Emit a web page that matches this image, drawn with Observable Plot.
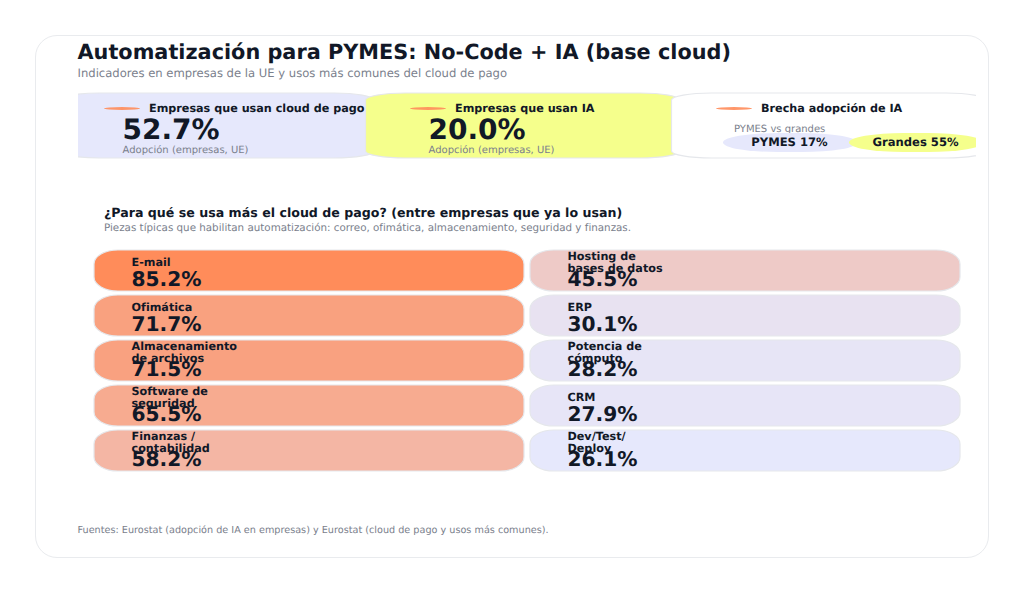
<!DOCTYPE html>
<html lang="es">
<head>
<meta charset="utf-8">
<script src="https://cdn.jsdelivr.net/npm/d3@7"></script>
<script src="https://cdn.jsdelivr.net/npm/@observablehq/plot@0.6"></script>
<style>
  html, body { margin: 0; padding: 0; background: #fff; width: 1024px; height: 592px; overflow: hidden; font-family: "DejaVu Sans", sans-serif; text-rendering: geometricPrecision; }
  #page { position: relative; width: 1024px; height: 592px; }
  #panel { position: absolute; left: 35px; top: 35px; width: 952px; height: 521px; border: 1.5px solid #e9ebee; border-radius: 22px; background: #fff; }
  .t { position: absolute; white-space: nowrap; line-height: 1; }
  #title { left: 77.5px; top: 42px; font-size: 20.82px; font-weight: 700; color: #111827; }
  #subtitle { left: 77.5px; top: 67.5px; font-size: 11.6px; color: #7a808c; }
  #h2 { left: 104px; top: 206.5px; font-size: 12.62px; font-weight: 700; color: #111827; }
  #h2sub { left: 104px; top: 222.5px; font-size: 10.32px; color: #7a808c; }
  #source { left: 77.5px; top: 525.5px; font-size: 9.67px; color: #7a808c; }
  #kpi, #tiles { position: absolute; }
  #kpi { left: 78px; top: 90px; }
  #tiles { left: 0; top: 237px; }
  svg { display: block; overflow: hidden; background: transparent; text-rendering: geometricPrecision; }
</style>
</head>
<body>
<div id="page">
  <div id="panel"></div>
  <div class="t" id="title">Automatización para PYMES: No-Code + IA (base cloud)</div>
  <div class="t" id="subtitle">Indicadores en empresas de la UE y usos más comunes del cloud de pago</div>
  <div id="kpi"></div>
  <div class="t" id="h2">¿Para qué se usa más el cloud de pago? (entre empresas que ya lo usan)</div>
  <div class="t" id="h2sub">Piezas típicas que habilitan automatización: correo, ofimática, almacenamiento, seguridad y finanzas.</div>
  <div id="tiles"></div>
  <div class="t" id="source">Fuentes: Eurostat (adopción de IA en empresas) y Eurostat (cloud de pago y usos más comunes).</div>
</div>
<script>
const kpiNames = ["Empresas que usan cloud de pago", "Empresas que usan IA", "Brecha adopción de IA"];
const kpiValues = ["52.7%", "20.0%", ""];
const kpiNotes = ["Adopción (empresas, UE)", "Adopción (empresas, UE)", "PYMES vs grandes"];
const kpiFills = ["#e6e8fc", "#f5ff8c", "#ffffff"];
const gapLabels = ["PYMES 17%", "Grandes 55%"];
const gapFills = ["#e6e8fc", "#f5ff8c"];

const useLabels = ["E-mail", "Ofimática", "Almacenamiento\nde archivos", "Software de\nseguridad", "Finanzas /\ncontabilidad",
                   "Hosting de\nbases de datos", "ERP", "Potencia de\ncómputo", "CRM", "Dev/Test/\nDeploy"];
const useValues = [85.2, 71.7, 71.5, 65.5, 58.2, 45.5, 30.1, 28.2, 27.9, 26.1];
const useColumns = ["a", "a", "a", "a", "a", "b", "b", "b", "b", "b"];
const useRows = [1, 2, 3, 4, 5, 1, 2, 3, 4, 5];

const ink = "#111827", muted = "#7a808c", edge = "#e5e7eb", accent = "#ff8c5a";
const font = "DejaVu Sans";

const kpis = kpiNames.map((name, i) => ({name, value: kpiValues[i], note: kpiNotes[i], fill: kpiFills[i]}));
const uses = useLabels.map((label, i) => ({label, value: useValues[i], col: useColumns[i], row: useRows[i]}));
const gapCard = kpiNames[2];

const kpiPlot = Plot.plot({
  width: 898, height: 72,
  margin: 0,
  style: {fontFamily: font, background: "transparent"},
  x: {type: "band", domain: kpiNames, range: [-18, 900], padding: 0, axis: null},
  y: {type: "band", domain: ["kpi"], range: [3, 68], padding: 0, axis: null},
  marks: [
    Plot.cell(kpis, {x: "name", y: () => "kpi", fill: "fill", stroke: edge, strokeWidth: 1.2, insetLeft: -0.5, insetRight: -8, rx: 40, ry: 7}),
    Plot.cell(kpis, {x: "name", y: () => "kpi", fill: accent, fillOpacity: 0.9, insetLeft: 44, insetRight: 226, insetTop: 14, insetBottom: 48, rx: 18, ry: 2}),
    Plot.text(kpis, {x: "name", y: () => "kpi", text: "name", textAnchor: "start", dx: -64.5, dy: -17.5, fontSize: 11.2, fontWeight: 700, fill: ink}),
    Plot.text(kpis, {x: "name", y: () => "kpi", text: "value", textAnchor: "start", dx: -91, dy: 4.5, fontSize: 28, fontWeight: 700, fill: ink}),
    Plot.text(kpis.filter(d => d.value), {x: "name", y: () => "kpi", text: "note", textAnchor: "start", dx: -91, dy: 24, fontSize: 10, fill: muted}),
    Plot.text(kpis.filter(d => !d.value), {x: "name", y: () => "kpi", text: "note", textAnchor: "start", dx: -91.5, dy: 3, fontSize: 10, fill: muted}),
    Plot.cell([gapLabels[0]], {x: () => gapCard, y: () => "kpi", fill: gapFills[0], insetLeft: 51, insetRight: 121, insetTop: 40, insetBottom: 6, rx: 55, ry: 9.5}),
    Plot.cell([gapLabels[1]], {x: () => gapCard, y: () => "kpi", fill: gapFills[1], insetLeft: 177, insetRight: -5, insetTop: 40, insetBottom: 6, rx: 55, ry: 9.5}),
    Plot.text([gapLabels[0]], {x: () => gapCard, y: () => "kpi", text: d => d, dx: -36, dy: 16.5, fontSize: 11.6, fontWeight: 700, fill: ink}),
    Plot.text([gapLabels[1]], {x: () => gapCard, y: () => "kpi", text: d => d, dx: 90, dy: 16.5, fontSize: 11.6, fontWeight: 700, fill: ink})
  ]
});
document.getElementById("kpi").append(kpiPlot);

const tilePlot = Plot.plot({
  width: 1024, height: 240,
  margin: 0,
  style: {fontFamily: font, background: "transparent"},
  x: {type: "band", domain: ["a", "b"], range: [93.5, 960.5], paddingInner: 0.014, paddingOuter: 0, axis: null},
  y: {type: "band", domain: useRows.slice(0, 5), range: [11, 235.5], paddingInner: 0.085, paddingOuter: 0, axis: null},
  color: {type: "linear", domain: [26.1, 85.2], range: ["#e6e8fc", "#ff8c5a"], interpolate: "rgb"},
  marks: [
    Plot.cell(uses, {x: "col", y: "row", fill: "value", stroke: edge, strokeWidth: 1.2, rx: 24, ry: 14}),
    Plot.text(uses, {x: "col", y: "row", text: "label", textAnchor: "start", lineAnchor: "middle", lineHeight: 1.05, dx: -178, dy: -9, fontSize: 11.2, fontWeight: 700, fill: ink}),
    Plot.text(uses, {x: "col", y: "row", text: d => d.value.toFixed(1) + "%", textAnchor: "start", dx: -178, dy: 8.5, fontSize: 20.2, fontWeight: 700, fill: ink})
  ]
});
document.getElementById("tiles").append(tilePlot);
</script>
</body>
</html>
